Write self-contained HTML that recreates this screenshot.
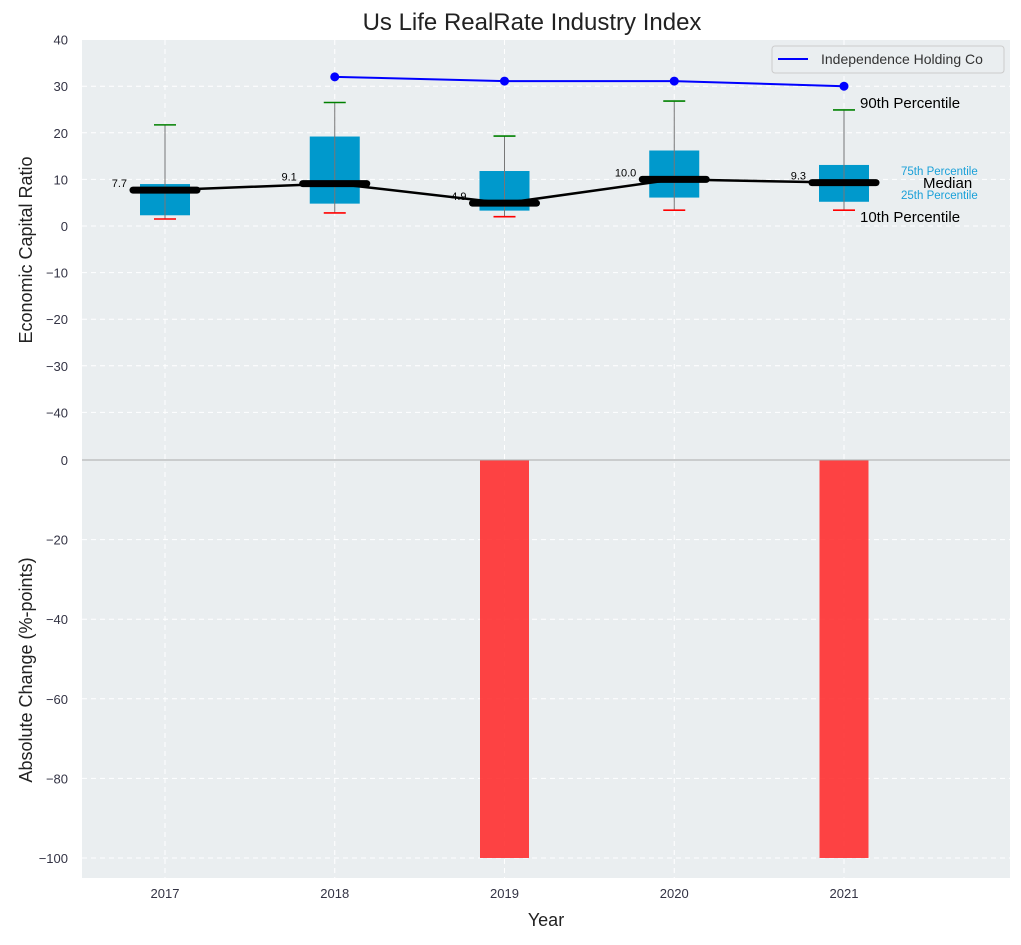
<!DOCTYPE html>
<html><head><meta charset="utf-8"><style>
body{margin:0;background:#fff;font-family:"Liberation Sans",sans-serif;}
svg text{font-family:"Liberation Sans",sans-serif;}
</style></head><body>
<svg id="chart" width="1021" height="940" xmlns="http://www.w3.org/2000/svg">
<text x="532" y="30" font-size="24" text-anchor="middle" fill="#222">Us Life RealRate Industry Index</text>
<rect x="82" y="40" width="928" height="420" fill="#eaeef0"/>
<rect x="82" y="460" width="928" height="418" fill="#eaeef0"/>
<g id="grid"></g>
<g id="marks"></g>
<line x1="82" y1="460" x2="1010" y2="460" stroke="#aaa" stroke-width="1"/>
<text transform="translate(32,250) rotate(-90)" font-size="18" text-anchor="middle" fill="#222">Economic Capital Ratio</text>
<text transform="translate(32,670) rotate(-90)" font-size="18" text-anchor="middle" fill="#222">Absolute Change (%-points)</text>
<text x="546" y="926" font-size="18" text-anchor="middle" fill="#222">Year</text>
<g>
<rect x="772" y="46" width="232" height="27" rx="3" fill="#eaeef0" stroke="#ccc"/>
<line x1="778" y1="59" x2="808" y2="59" stroke="#0000ff" stroke-width="2"/>
<text x="821" y="64" font-size="14" fill="#333">Independence Holding Co</text>
</g>
<text x="860" y="108" font-size="15" fill="#000">90th Percentile</text>
<text x="860" y="222" font-size="15" fill="#000">10th Percentile</text>
<text x="923" y="188" font-size="15" fill="#000">Median</text>
<text x="901" y="175" font-size="11.5" fill="#1aa0d8">75th Percentile</text>
<text x="901" y="199" font-size="11.5" fill="#1aa0d8">25th Percentile</text>
</svg>
<script>
const years=[2017,2018,2019,2020,2021];
const p10=[1.5,2.8,2.0,3.4,3.4];
const q25=[2.3,4.8,3.3,6.1,5.2];
const medians=[7.7,9.1,4.9,10.0,9.3];
const q75=[9.0,19.2,11.8,16.2,13.1];
const p90=[21.7,26.5,19.3,26.8,24.9];
const companyYears=[2018,2019,2020,2021];
const companyValues=[32.0,31.1,31.1,30.0];
const changeYears=[2019,2021];
const changeValues=[-100,-100];
const topTicks=[40,30,20,10,0,-10,-20,-30,-40];
const bottomTicks=[0,-20,-40,-60,-80,-100];
const NS="http://www.w3.org/2000/svg";
const X=y=>165+(y-2017)*169.75;
const YT=v=>226-v*4.66;
const YB=v=>460-v*(-3.98)*-1;
function mk(tag,attrs,parent){const e=document.createElementNS(NS,tag);for(const k in attrs)e.setAttribute(k,attrs[k]);(parent||document.getElementById('marks')).appendChild(e);return e;}
const grid=document.getElementById('grid');
topTicks.forEach(t=>{const y=YT(t);
 if(t!==40){const l=mk('line',{x1:82,x2:1010,y1:y,y2:y,stroke:'#fff','stroke-dasharray':'5,4','stroke-width':1},grid);}
 const tx=mk('text',{x:68,y:y+5,'font-size':13,'text-anchor':'end',fill:'#334'},grid);tx.textContent=t<0?'\u2212'+(-t):t;});
bottomTicks.forEach(t=>{const y=YB(t);
 if(t!==0){const l=mk('line',{x1:82,x2:1010,y1:y,y2:y,stroke:'#fff','stroke-dasharray':'5,4','stroke-width':1},grid);}
 const tx=mk('text',{x:68,y:y+5,'font-size':13,'text-anchor':'end',fill:'#334'},grid);tx.textContent=t<0?'\u2212'+(-t):t;});
years.forEach(yr=>{const x=X(yr);
 const l=mk('line',{x1:x,x2:x,y1:40,y2:878,stroke:'#fff','stroke-dasharray':'5,4'},grid);
 const tx=mk('text',{x:x,y:898,'font-size':13,'text-anchor':'middle',fill:'#334'},grid);tx.textContent=yr;});
// bars
changeYears.forEach((yr,i)=>{const x=X(yr);const y0=YB(0),y1=YB(changeValues[i]);
 const r=mk('rect',{x:x-24.5,y:Math.min(y0,y1),width:49,height:Math.abs(y1-y0),fill:'#ff2a2a','fill-opacity':0.88});
 });
// boxes
years.forEach((yr,i)=>{const x=X(yr);
 const b=mk('rect',{x:x-25,y:YT(q75[i]),width:50,height:YT(q25[i])-YT(q75[i]),fill:'#0099cc'});
 
 const w=mk('line',{x1:x,x2:x,y1:YT(p90[i]),y2:YT(p10[i]),stroke:'#777','stroke-width':1});
 
 const hi=mk('line',{x1:x-11,x2:x+11,y1:YT(p90[i]),y2:YT(p90[i]),stroke:'#008000','stroke-width':1.6});
 
 const lo=mk('line',{x1:x-11,x2:x+11,y1:YT(p10[i]),y2:YT(p10[i]),stroke:'#ff0000','stroke-width':1.6});
 });
const ml=mk('polyline',{points:years.map((yr,i)=>X(yr)+','+YT(medians[i])).join(' '),fill:'none',stroke:'#000','stroke-width':2.5});

years.forEach((yr,i)=>{const x=X(yr),y=YT(medians[i]);
 const m=mk('line',{x1:x-32,x2:x+32,y1:y,y2:y,stroke:'#000','stroke-width':7,'stroke-linecap':'round'});
 
 const t=mk('text',{x:x-38,y:y-3,'font-size':11,'text-anchor':'end',fill:'#000'});t.textContent=medians[i].toFixed(1);
 });
const cl=mk('polyline',{points:companyYears.map((yr,i)=>X(yr)+','+YT(companyValues[i])).join(' '),fill:'none',stroke:'#0000ff','stroke-width':2});

companyYears.forEach((yr,i)=>{const c=mk('circle',{cx:X(yr),cy:YT(companyValues[i]),r:4.5,fill:'#0000ff'});
 });
</script>
</body></html>
